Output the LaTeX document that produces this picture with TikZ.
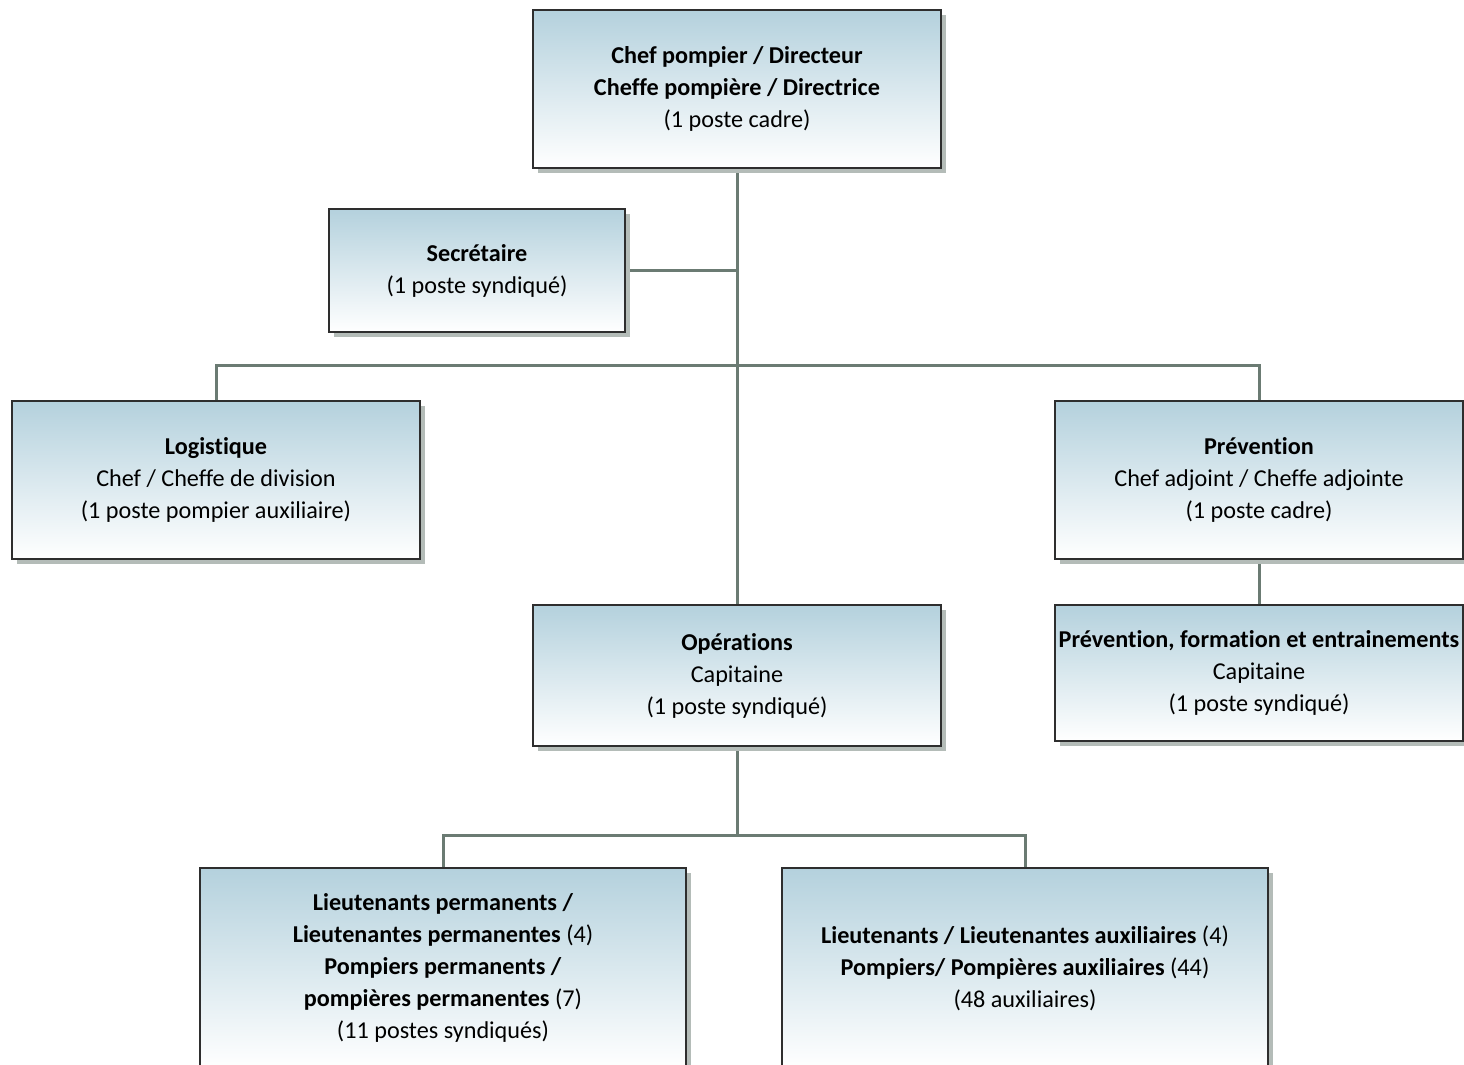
\documentclass[tikz,border=0pt]{standalone}
\usepackage{fontspec}
\setmainfont{Carlito}[Ligatures=NoCommon]
\usetikzlibrary{positioning,shadows,backgrounds}
\definecolor{boxtop}{HTML}{B4D1DD}
\definecolor{boxline}{HTML}{2E2E2E}
\definecolor{linkgray}{HTML}{6B7B73}
\definecolor{shade}{HTML}{B4BCB8}

\begin{document}
\begin{tikzpicture}[
 x=0.5pt,y=-0.5pt,
 post/.style={draw=boxline,line width=0.6pt,top color=boxtop,bottom color=white,
   minimum width=204pt,minimum height=79pt,inner sep=0pt,align=center,
   font=\fontsize{12.1}{16}\selectfont,
   drop shadow={shadow xshift=2.5pt,shadow yshift=-2.5pt,fill=shade,opacity=1}},
 link/.style={draw=linkgray,line width=1.5pt}
]
\clip (0,0) rectangle (1464,1065);
\node[post] (chef) at (737,89) {\textbf{Chef pompier / Directeur}\\\textbf{Cheffe pompière / Directrice}\\(1 poste cadre)};
\node[post,minimum width=148pt,minimum height=61.5pt] (secr) at (477,270.5) {\textbf{Secrétaire}\\(1 poste syndiqué)};
\node[post] (logist) at (216,480) {\textbf{Logistique}\\Chef / Cheffe de division\\(1 poste pompier auxiliaire)};
\node[post] (prev) at (1259,480) {\textbf{Prévention}\\Chef adjoint / Cheffe adjointe\\(1 poste cadre)};
\node[post,minimum height=70.5pt] (oper) at (737,675.5) {\textbf{Opérations}\\Capitaine\\(1 poste syndiqué)};
\node[post,minimum height=68pt] (form) at (1259,673) {\textbf{Prévention, formation et entrainements}\\Capitaine\\(1 poste syndiqué)};
\node[post,minimum width=243pt,minimum height=100pt] (lieutp) at (443,968) {\textbf{Lieutenants permanents /}\\\textbf{Lieutenantes permanentes} (4)\\\textbf{Pompiers permanents /}\\\textbf{pompières permanentes} (7)\\(11 postes syndiqués)};
\node[post,minimum width=243pt,minimum height=100pt] (lieuta) at (1025,968) {\textbf{Lieutenants / Lieutenantes auxiliaires} (4)\\\textbf{Pompiers/ Pompières auxiliaires} (44)\\(48 auxiliaires)};
% connectors
\coordinate (bus) at (737,365);
\coordinate (opbus) at (737,835);
\begin{scope}[on background layer]
\draw[link] (chef.south) -- (oper.north);
\draw[link] (secr.east) -- (secr.east -| chef.south);
\draw[link] (logist.north) |- (bus) -| (prev.north);
\draw[link] (prev.south) -- (form.north);
\draw[link] (oper.south) -- (opbus);
\draw[link] (lieutp.north) |- (opbus) -| (lieuta.north);
\end{scope}
\end{tikzpicture}
\end{document}
